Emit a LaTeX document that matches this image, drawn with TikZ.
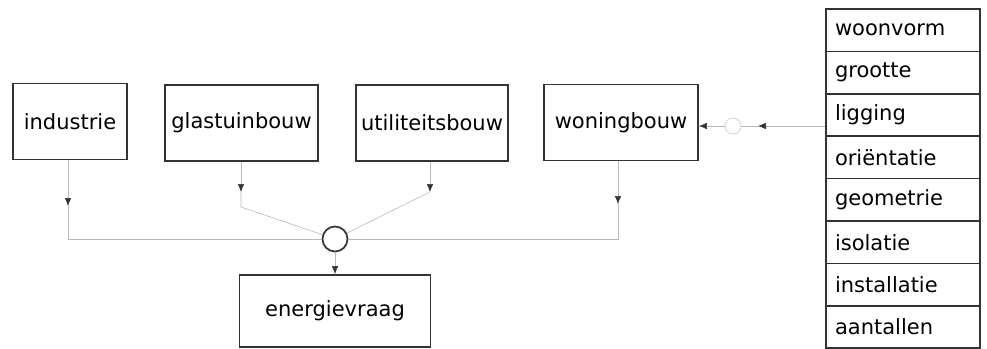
\documentclass[tikz,border=0pt]{standalone}
\usepackage{fontspec}
\setmainfont{DejaVu Sans}
\usetikzlibrary{arrows.meta}

\begin{document}
\begin{tikzpicture}[x=1pt,y=-1pt,
        box/.style={draw=black!80,line width=1.8pt,minimum height=76pt,font=\fontsize{21}{24}\selectfont},
        row/.style={draw=black!80,line width=1.6pt,minimum height=42.4pt,text width=136pt,inner xsep=9pt,align=left,font=\fontsize{21}{24}\selectfont},
        flow/.style={gray!55,line width=0.6pt},
        arr/.style={-{Latex[length=8pt,width=6.5pt,color=black!80]}}]
        \useasboundingbox (0,0) rectangle (987,348);

        \node[box,minimum width=114pt] (ind) at (70,121.5) {industrie};
        \node[box,minimum width=153pt] (glas) at (241.5,123) {glastuinbouw};
        \node[box,minimum width=152pt] (util) at (432,123) {utiliteitsbouw};
        \node[box,minimum width=154pt] (won) at (621,122.5) {woningbouw};
        \node[box,minimum width=191pt,minimum height=72pt] (nrg) at (335,311) {energievraag};

        \node[circle,draw=black!80,line width=1.7pt,minimum size=25pt,inner sep=0pt] (hub) at (335,239) {};
        \node[circle,draw=gray!35,line width=0.8pt,minimum size=16pt,inner sep=0pt] (junc) at (733,126) {};

        \foreach \lab [count=\i] in {woonvorm,grootte,ligging,oriëntatie,geometrie,isolatie,installatie,aantallen}
            \node[row] (r\i) at (903,{9+42.4*(\i-0.5)}) {\lab};

        \coordinate (ind-a) at (68,206);
        \coordinate (glas-a) at (241,192);
        \coordinate (util-a) at (430,192);
        \coordinate (won-a) at (618,204);
        \coordinate (src) at (r3.west |- junc);
        \coordinate (src-a) at (758,126);

        \draw[flow,arr] (ind.south -| ind-a) -- (ind-a);
        \draw[flow] (ind-a) -- (ind-a |- hub) -- (hub);
        \draw[flow,arr] (glas.south -| glas-a) -- (glas-a);
        \draw[flow] (glas-a) -- (241,207) -- (hub);
        \draw[flow,arr] (util.south -| util-a) -- (util-a);
        \draw[flow] (util-a) -- (hub);
        \draw[flow,arr] (won.south -| won-a) -- (won-a);
        \draw[flow] (won-a) -- (won-a |- hub) -- (hub);
        \draw[flow,arr] (hub) -- (nrg.north);

        \draw[flow,arr] (src) -- (src-a);
        \draw[flow] (src-a) -- (junc);
        \draw[flow,arr] (junc) -- (junc -| won.east);
    \end{tikzpicture}
\end{document}
